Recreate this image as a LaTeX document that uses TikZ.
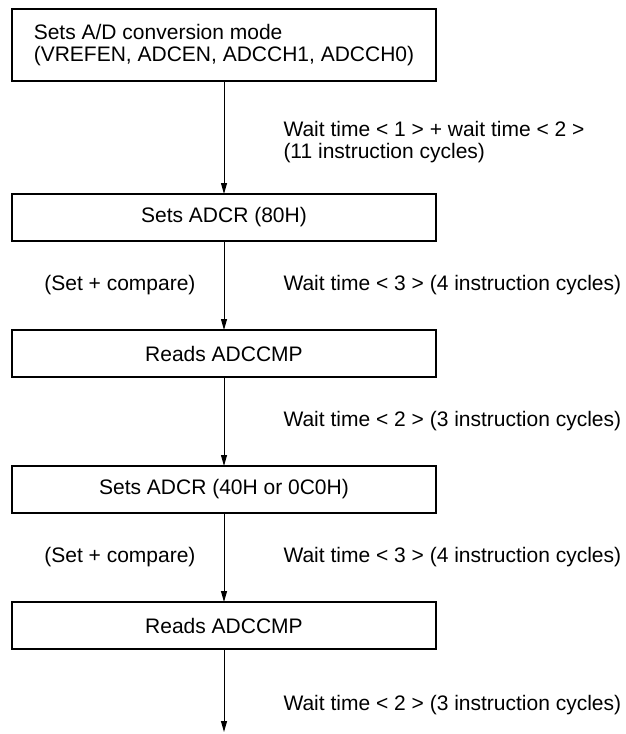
\documentclass[tikz,border=0pt]{standalone}
\usepackage{fontspec}
\setmainfont{Liberation Sans}
\usetikzlibrary{arrows.meta, positioning}

\begin{document}
\begin{tikzpicture}[
  node distance=44.5pt,
  font=\fontsize{10.5}{11.3}\selectfont,
  stepbox/.style={rectangle, draw=black, line width=1.1pt,
                  minimum width=212pt, minimum height=23.5pt,
                  align=center, inner sep=0pt, outer sep=0pt},
  modebox/.style={stepbox, minimum height=36pt, align=left},
  arrow/.style={-{Triangle[length=5.5pt, width=3pt]}, line width=0.5pt},
  note/.style={align=left, inner sep=0pt}
]
\useasboundingbox (0,0) rectangle (313pt,-367pt);

\node[modebox] (mode) at (112pt,-22.5pt) {%
  Sets A/D conversion mode\\
  (VREFEN, ADCEN, ADCCH1, ADCCH0)};
\node[stepbox, below=56.5pt of mode] (setadcr1) {Sets ADCR (80H)};
\node[stepbox, below=of setadcr1] (readcmp1) {Reads ADCCMP};
\node[stepbox, below=of readcmp1] (setadcr2) {Sets ADCR (40H or 0C0H)};
\node[stepbox, below=of setadcr2] (readcmp2) {Reads ADCCMP};
\coordinate[below=41.5pt of readcmp2] (next);

\draw[arrow] (mode) -- node[note, right=29.5pt, pos=0.54] {Wait time < 1 > + wait time < 2 >\\(11 instruction cycles)} (setadcr1);
\draw[arrow] (setadcr1) -- node[note, right=29.5pt] {Wait time < 3 > (4 instruction cycles)}
  node[note, left=14pt] {(Set + compare)} (readcmp1);
\draw[arrow] (readcmp1) -- node[note, right=29.5pt] {Wait time < 2 > (3 instruction cycles)} (setadcr2);
\draw[arrow] (setadcr2) -- node[note, right=29.5pt] {Wait time < 3 > (4 instruction cycles)}
  node[note, left=14pt] {(Set + compare)} (readcmp2);
\draw[arrow] (readcmp2) -- node[note, right=29.5pt, pos=0.67] {Wait time < 2 > (3 instruction cycles)} (next);
\end{tikzpicture}
\end{document}
